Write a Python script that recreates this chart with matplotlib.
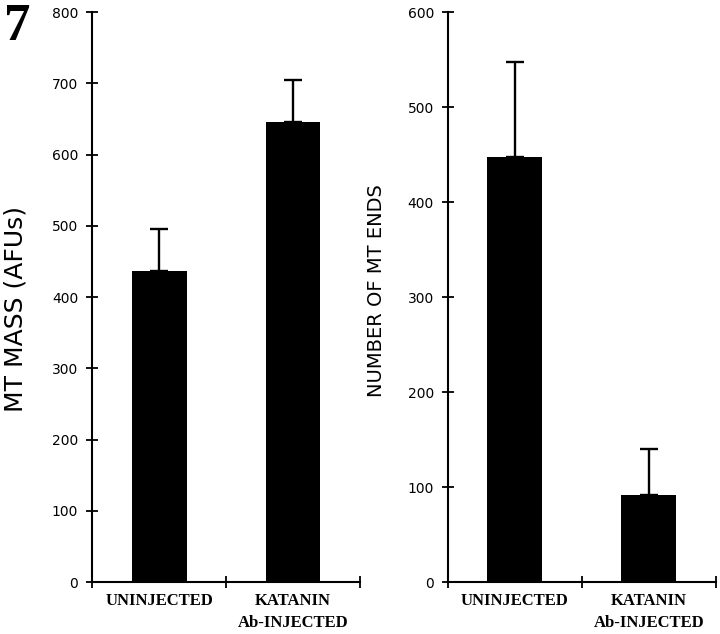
import matplotlib
matplotlib.use('Agg')
import matplotlib.pyplot as plt

# values
categories = ['UNINJECTED', 'KATANIN\nAb-INJECTED']
mt_mass = [437, 646]
mt_mass_err = [58, 58]
mt_ends = [447, 92]
mt_ends_err = [100, 48]

fig = plt.figure(figsize=(7.2, 6.34), dpi=100)
ax1 = fig.add_axes([0.128, 0.082, 0.372, 0.899])
ax2 = fig.add_axes([0.622, 0.082, 0.372, 0.899])

def style_panel(ax, vals, errs, ymax, ystep, ylabel, lsize, lx, ly):
    x = [0.5, 1.5]
    ax.bar(x, vals, width=0.41, color='black')
    ax.errorbar(x, vals, yerr=[[0, 0], errs], fmt='none', ecolor='black',
                elinewidth=1.7, capsize=6.5, capthick=1.7)
    ax.set_xlim(0, 2)
    ax.set_ylim(0, ymax)
    ax.set_yticks(range(0, ymax + 1, ystep))
    ax.set_xticks([0, 1, 2])
    ax.set_xticklabels([])
    for xi, lab in zip(x, categories):
        ax.text(xi, -ymax * 0.02, lab, ha='center', va='top', fontsize=12,
                fontweight='bold', family='Liberation Serif', linespacing=1.45)
    for s in ['top', 'right']:
        ax.spines[s].set_visible(False)
    for s in ['left', 'bottom']:
        ax.spines[s].set_linewidth(1.5)
    ax.tick_params(axis='y', direction='inout', length=8, width=1.3, labelsize=10, pad=6)
    ax.tick_params(axis='x', direction='inout', length=8, width=1.3)
    ax.set_ylabel(ylabel, fontsize=lsize, va='center')
    ax.yaxis.set_label_coords(lx, ly)

style_panel(ax1, mt_mass, mt_mass_err, 800, 100, 'MT MASS (AFUs)', 18, -0.287, 0.479)
style_panel(ax2, mt_ends, mt_ends_err, 600, 100, 'NUMBER OF MT ENDS', 14, -0.265, 0.512)

fig.text(0.005, 0.995, '7', fontsize=38, fontweight='bold', family='Liberation Serif',
         ha='left', va='top')

fig.savefig('out.png', dpi=100)
